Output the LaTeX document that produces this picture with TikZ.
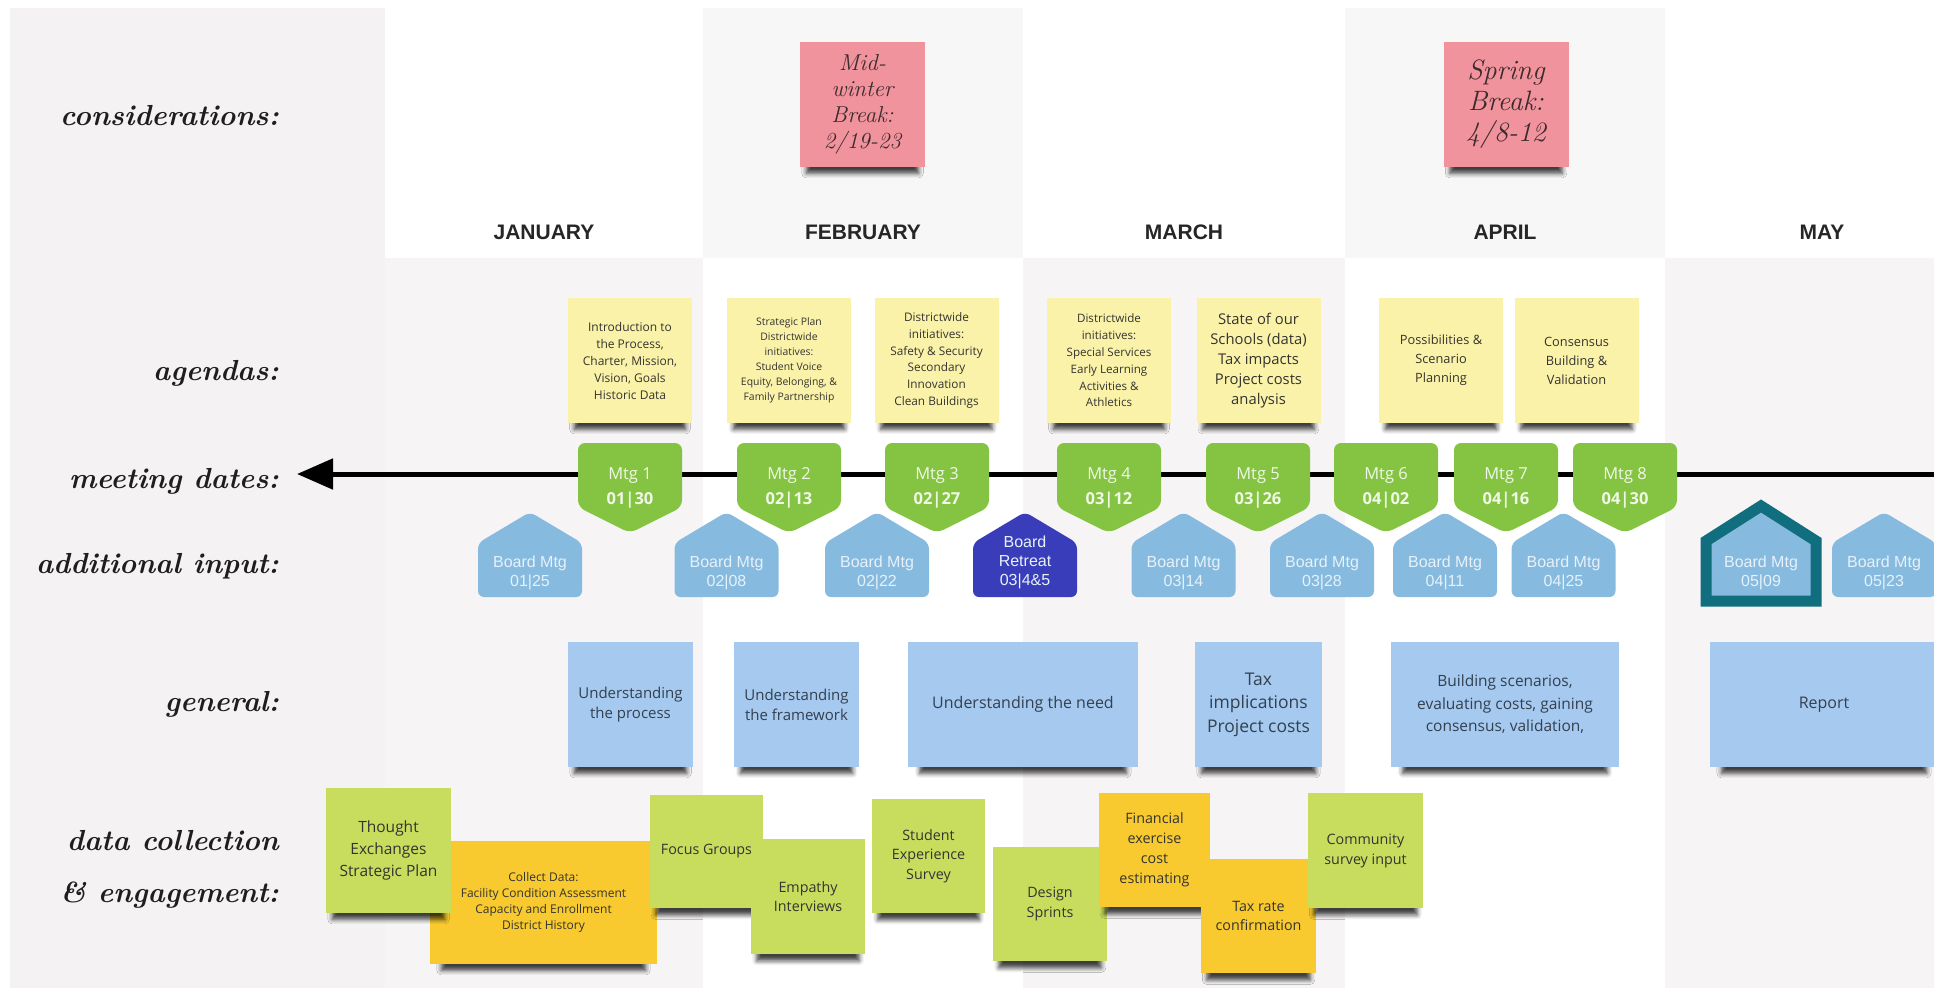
\documentclass[tikz,border=0pt]{standalone}
\usepackage{fontspec}
\newfontfamily\osans{Open Sans}
\newfontfamily\lsans{Liberation Sans}
\usetikzlibrary{arrows.meta,shadows.blur}
\definecolor{labelgray}{HTML}{F4F2F3}
\definecolor{bodygray}{HTML}{F6F4F5}
\definecolor{headgray}{HTML}{F8F7F8}
\definecolor{agendayellow}{HTML}{FBF2AA}
\definecolor{genblue}{HTML}{A6C9EF}
\definecolor{limegreen}{HTML}{C8DD5E}
\definecolor{orangey}{HTML}{F8CA30}
\definecolor{pinknote}{HTML}{F1939C}
\definecolor{mtggreen}{HTML}{84C442}
\definecolor{boardblue}{HTML}{86BBDF}
\definecolor{retreatblue}{HTML}{3A3DB9}
\definecolor{tealline}{HTML}{116E7F}
\definecolor{stickytext}{HTML}{34342F}
\definecolor{gentext}{HTML}{33404F}
\definecolor{pinktext}{HTML}{3B2A2E}
\definecolor{mtgtextc}{HTML}{F0F8E6}
\definecolor{boardtextc}{HTML}{E6F1FA}
\definecolor{handink}{HTML}{1E1E1E}
\tikzset{
  hand/.style={anchor=base east, font=\rmfamily\bfseries\itshape\fontsize{29}{34}\selectfont, text=handink, inner sep=0pt},
  month/.style={font=\lsans\bfseries\fontsize{21}{24}\selectfont, text=black!85},
  fs/.style 2 args={font=\osans\fontsize{#1}{#2}\selectfont},
  sticky/.style={rectangle, inner sep=2pt, align=center, text=stickytext, font=\osans,
     blur shadow={shadow xshift=0pt, shadow yshift=-14pt, shadow scale=0.9, shadow blur radius=5pt, shadow opacity=75}},
  agenda/.style={sticky, fill=agendayellow, minimum width=124pt, minimum height=125pt},
  general/.style={sticky, fill=genblue, text=gentext, minimum height=125pt},
  datag/.style={sticky, fill=limegreen},
  datao/.style={sticky, fill=orangey},
  pinky/.style={sticky, fill=pinknote, text=pinktext, minimum width=125pt, minimum height=125pt},
  mtgshape/.style={fill=mtggreen, rounded corners=7pt},
  mtgtext/.style={align=center, text=mtgtextc, font=\osans\fontsize{16.5}{25}\selectfont},
  boardshape/.style={fill=boardblue, rounded corners=6pt},
  retreatshape/.style={fill=retreatblue, rounded corners=6pt},
  boardtext/.style={align=center, text=boardtextc, font=\lsans\fontsize{16}{19}\selectfont},
  timeline/.style={line width=5pt, -{Triangle[length=36pt,width=30pt]}},
}
\newcommand\mtgnode[4]{%
  \fill[mtgshape] (#2-52,443) -- (#2+52,443) -- (#2+52,507) -- (#2,533) -- (#2-52,507) -- cycle;
  \node[mtgtext] (#1) at (#2,487.5) {Mtg #3\\\textbf{#4}};
}
\newcommand\boardnode[5]{%
  \fill[#3] (#2-52,597) -- (#2-52,543) -- (#2,512) -- (#2+52,543) -- (#2+52,597) -- cycle;
  \node[boardtext] (#1) at (#2,#5) {#4};
}
\begin{document}
\begin{tikzpicture}[x=1pt,y=-1pt]
\useasboundingbox (0,0) rectangle (1934,997);
\clip (0,0) rectangle (1934,997);
% backgrounds
\fill[labelgray] (10,8) rectangle (385,988);
\fill[headgray] (703,8) rectangle (1023,258);
\fill[headgray] (1345,8) rectangle (1665,258);
\fill[bodygray] (385,258) rectangle (703,988);
\fill[bodygray] (1023,258) rectangle (1345,988);
\fill[bodygray] (1665,258) rectangle (1934,988);

% row labels
\node[hand] (lcons) at (279,125) {considerations:};
\node[hand] (lagen) at (279,380) {agendas:};
\node[hand] (lmeet) at (279,488) {meeting dates:};
\node[hand] (ladd) at (279,573) {additional input:};
\node[hand] (lgen) at (279,711) {general:};
\node[hand] (ldata1) at (279,850) {data collection};
\node[hand] (ldata2) at (279,902) {\& engagement:};

% months
\node[month] (jan) at (544,232) {JANUARY};
\node[month] (feb) at (863,232) {FEBRUARY};
\node[month] (mar) at (1184,232) {MARCH};
\node[month] (apr) at (1505,232) {APRIL};
\node[month] (may) at (1822,232) {MAY};

% considerations
\node[pinky, font=\rmfamily\itshape\fontsize{23}{26}\selectfont] (p1) at (862.5,104.5) {Mid-\\winter\\Break:\\2/19-23};
\node[pinky, font=\rmfamily\itshape\fontsize{28}{31}\selectfont] (p2) at (1506,104.5) {Spring\\Break:\\4/8-12};

% agendas
\node[agenda, fs={12}{17}] (a1) at (630,360.5) {Introduction to\\the Process,\\Charter, Mission,\\Vision, Goals\\Historic Data};
\node[agenda, fs={10.4}{15}] (a2) at (789,360.5) {Strategic Plan\\Districtwide\\initiatives:\\Student Voice\\Equity, Belonging, \&\\Family Partnership};
\node[agenda, fs={11.8}{16.7}] (a3) at (936.5,360.5) {Districtwide\\initiatives:\\Safety \& Security\\Secondary\\Innovation\\Clean Buildings};
\node[agenda, fs={11.6}{16.8}] (a4) at (1109,360.5) {Districtwide\\initiatives:\\Special Services\\Early Learning\\Activities \&\\Athletics};
\node[agenda, fs={14.8}{20}] (a5) at (1258.5,360.5) {State of our\\Schools (data)\\Tax impacts\\Project costs\\analysis};
\node[agenda, fs={12.8}{19}] (a6) at (1441,360.5) {Possibilities \&\\Scenario\\Planning};
\node[agenda, fs={12.8}{19}] (a7) at (1576.5,360.5) {Consensus\\Building \&\\Validation};

% timeline
\coordinate (tlR) at (1934,474);
\coordinate (tlL) at (297,474);
\draw[timeline] (tlR) -- (tlL);

% meetings
\mtgnode{m1}{630}{1}{01|30}
\mtgnode{m2}{789}{2}{02|13}
\mtgnode{m3}{937}{3}{02|27}
\mtgnode{m4}{1109}{4}{03|12}
\mtgnode{m5}{1258}{5}{03|26}
\mtgnode{m6}{1386}{6}{04|02}
\mtgnode{m7}{1506}{7}{04|16}
\mtgnode{m8}{1625}{8}{04|30}

% additional input
\boardnode{b1}{530}{boardshape}{Board Mtg\\01|25}{572.5}
\boardnode{b2}{726.5}{boardshape}{Board Mtg\\02|08}{572.5}
\boardnode{b3}{877}{boardshape}{Board Mtg\\02|22}{572.5}
\boardnode{br}{1025}{retreatshape}{Board\\Retreat\\03|4\&5}{562}
\boardnode{b4}{1183.5}{boardshape}{Board Mtg\\03|14}{572.5}
\boardnode{b5}{1322}{boardshape}{Board Mtg\\03|28}{572.5}
\boardnode{b6}{1445}{boardshape}{Board Mtg\\04|11}{572.5}
\boardnode{b7}{1563.5}{boardshape}{Board Mtg\\04|25}{572.5}
\filldraw[fill=boardblue, draw=tealline, line width=11pt, line join=miter] (1706,601) -- (1706,541) -- (1761,506) -- (1816,541) -- (1816,601) -- cycle;
\node[boardtext] (b8) at (1761,572.5) {Board Mtg\\05|09};
\boardnode{b9}{1884}{boardshape}{Board Mtg\\05|23}{572.5}

% general
\node[general, minimum width=125pt, fs={15}{20}] (g1) at (630.5,704.5) {Understanding\\the process};
\node[general, minimum width=125pt, fs={15}{20}] (g2) at (796.5,704.5) {Understanding\\the framework};
\node[general, minimum width=230pt, fs={16}{22}] (g3) at (1023,704.5) {Understanding the need};
\node[general, minimum width=127pt, fs={17.5}{23.5}] (g4) at (1258.5,704.5) {Tax\\implications\\Project costs};
\node[general, minimum width=228pt, fs={15.5}{22.5}] (g5) at (1505,704.5) {Building scenarios,\\evaluating costs, gaining\\consensus, validation,};
\node[general, minimum width=228pt, fs={16}{22}] (g6) at (1824,704.5) {Report};

% data collection & engagement
\node[datao, minimum width=227pt, minimum height=123pt, fs={12}{16}] (d2) at (543.5,902.5) {Collect Data:\\Facility Condition Assessment\\Capacity and Enrollment\\District History};
\node[datag, minimum width=125pt, minimum height=125pt, fs={15.5}{22}] (d1) at (388.5,850.5) {Thought\\Exchanges\\Strategic Plan};
\node[datag, minimum width=113pt, minimum height=113pt, fs={14.3}{20}] (d3) at (706.5,851.5) {Focus Groups};
\node[datag, minimum width=114pt, minimum height=115pt, fs={14.3}{19.5}] (d4) at (808,896.5) {Empathy\\Interviews};
\node[datag, minimum width=113pt, minimum height=114pt, fs={14.3}{19.5}] (d5) at (928.5,856) {Student\\Experience\\Survey};
\node[datag, minimum width=114pt, minimum height=114pt, fs={14.3}{20}] (d6) at (1050,904) {Design\\Sprints};
\node[datao, minimum width=111pt, minimum height=114pt, fs={14.3}{20}] (d7) at (1154.5,850) {Financial\\exercise\\cost\\estimating};
\node[datao, minimum width=115pt, minimum height=114pt, fs={14.3}{19}] (d8) at (1258.5,916) {Tax rate\\confirmation};
\node[datag, minimum width=115pt, minimum height=115pt, fs={14.3}{20}] (d9) at (1365.5,850.5) {Community\\survey input};
\end{tikzpicture}
\end{document}
